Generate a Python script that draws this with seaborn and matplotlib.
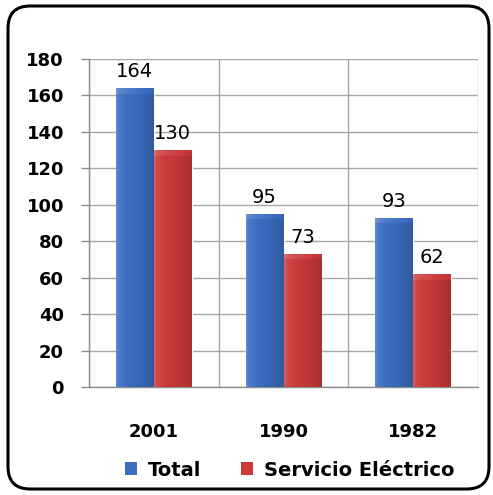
import numpy as np
import pandas as pd
import matplotlib
matplotlib.use("Agg")
import matplotlib.pyplot as plt
import seaborn as sns
from matplotlib.patches import FancyBboxPatch, Patch
from matplotlib.ticker import FixedLocator

years = ["2001", "1990", "1982"]
total = [164, 95, 93]
servicio = [130, 73, 62]
series = ["Total", "Servicio Eléctrico"]
colors = ["#3b6dc2", "#cb3a39"]
yticks = [0, 20, 40, 60, 80, 100, 120, 140, 160, 180]

df = pd.DataFrame({
    "year": years * 2,
    "value": total + servicio,
    "serie": [series[0]] * 3 + [series[1]] * 3,
})

sns.set_style("white")
plt.rcParams["font.family"] = ["DejaVu Sans"]
plt.rcParams["text.color"] = "black"
plt.rcParams["xtick.labelcolor"] = "black"
plt.rcParams["ytick.labelcolor"] = "black"

fig = plt.figure(figsize=(4.93, 4.95), dpi=100)
ax = fig.add_axes([89 / 493, 1 - 387 / 495, (478 - 89) / 493, (387 - 59) / 495])

sns.barplot(data=df, x="year", y="value", hue="serie", order=years,
            hue_order=series, palette=colors, width=0.585, saturation=1,
            legend=False, ax=ax, zorder=2)


def shade(rgb, k):
    rgb = np.array(rgb)
    if k >= 1:
        return rgb + (1 - rgb) * (k - 1)
    return rgb * k


# horizontal gradient + light top edge, like the beveled excel bars
for bar in ax.patches:
    x0, w, h = bar.get_x(), bar.get_width(), bar.get_height()
    if h <= 0:
        continue
    base = matplotlib.colors.to_rgb(bar.get_facecolor())
    nx, ny = 40, 300
    xs = np.linspace(0, 1, nx)
    prof = np.interp(xs, [0, 0.08, 0.3, 0.7, 1.0], [1.18, 1.08, 1.0, 0.92, 0.82])
    img = np.zeros((ny, nx, 3))
    top_band = 3.0 / h
    for j in range(ny):
        frac = 1 - j / (ny - 1)
        extra = 0.1 if frac > 1 - top_band else 0.0
        for i in range(nx):
            img[j, i] = np.clip(shade(base, prof[i] + extra), 0, 1)
    im = ax.imshow(img, extent=(x0, x0 + w, 0, h), aspect="auto", zorder=3,
                   interpolation="bilinear")
    im.set_clip_path(bar)

for cont in ax.containers:
    ax.bar_label(cont, fontsize=14, padding=5, color="black", zorder=4)

ax.set_xlim(-0.5, 2.5)
ax.set_ylim(0, 180)
ax.set_yticks(yticks)
ax.set_yticklabels([str(v) for v in yticks], fontsize=13, fontweight="bold")
ax.set_xticks(range(3))
ax.set_xticklabels(years, fontsize=13, fontweight="bold")
ax.xaxis.set_minor_locator(FixedLocator([-0.5, 0.5, 1.5, 2.5]))
ax.tick_params(axis="x", which="major", length=0, pad=26)
ax.tick_params(axis="x", which="minor", length=6, width=1, color="#8c8c8c", direction="out")
ax.tick_params(axis="y", length=6, width=1, color="#8c8c8c", pad=12, direction="out", left=True)
ax.grid(axis="y", color="#a6a6a6", linewidth=1, zorder=0)
ax.grid(axis="x", which="minor", color="#a6a6a6", linewidth=1, zorder=0)
ax.set_axisbelow(True)
ax.set_xlabel("")
ax.set_ylabel("")
for side in ["top", "right"]:
    ax.spines[side].set_visible(False)
for side in ["left", "bottom"]:
    ax.spines[side].set_color("#8c8c8c")
    ax.spines[side].set_linewidth(1)

handles = [Patch(facecolor=c, edgecolor="none") for c in colors]
leg = fig.legend(handles, series, loc="center", bbox_to_anchor=(290 / 493, 1 - 470 / 495),
                 ncol=2, frameon=False, handlelength=0.62, handleheight=0.62,
                 handletextpad=0.55, columnspacing=2.05,
                 prop={"size": 14, "weight": "bold"})
for t in leg.get_texts():
    t.set_color("black")

border = FancyBboxPatch((8 / 493, 6 / 495), 481 / 493, 483 / 495,
                        boxstyle="round,pad=0,rounding_size=0.045",
                        transform=fig.transFigure, facecolor="none",
                        edgecolor="black", linewidth=2.2, zorder=10)
fig.patches.append(border)

fig.savefig("out.png", dpi=100)
